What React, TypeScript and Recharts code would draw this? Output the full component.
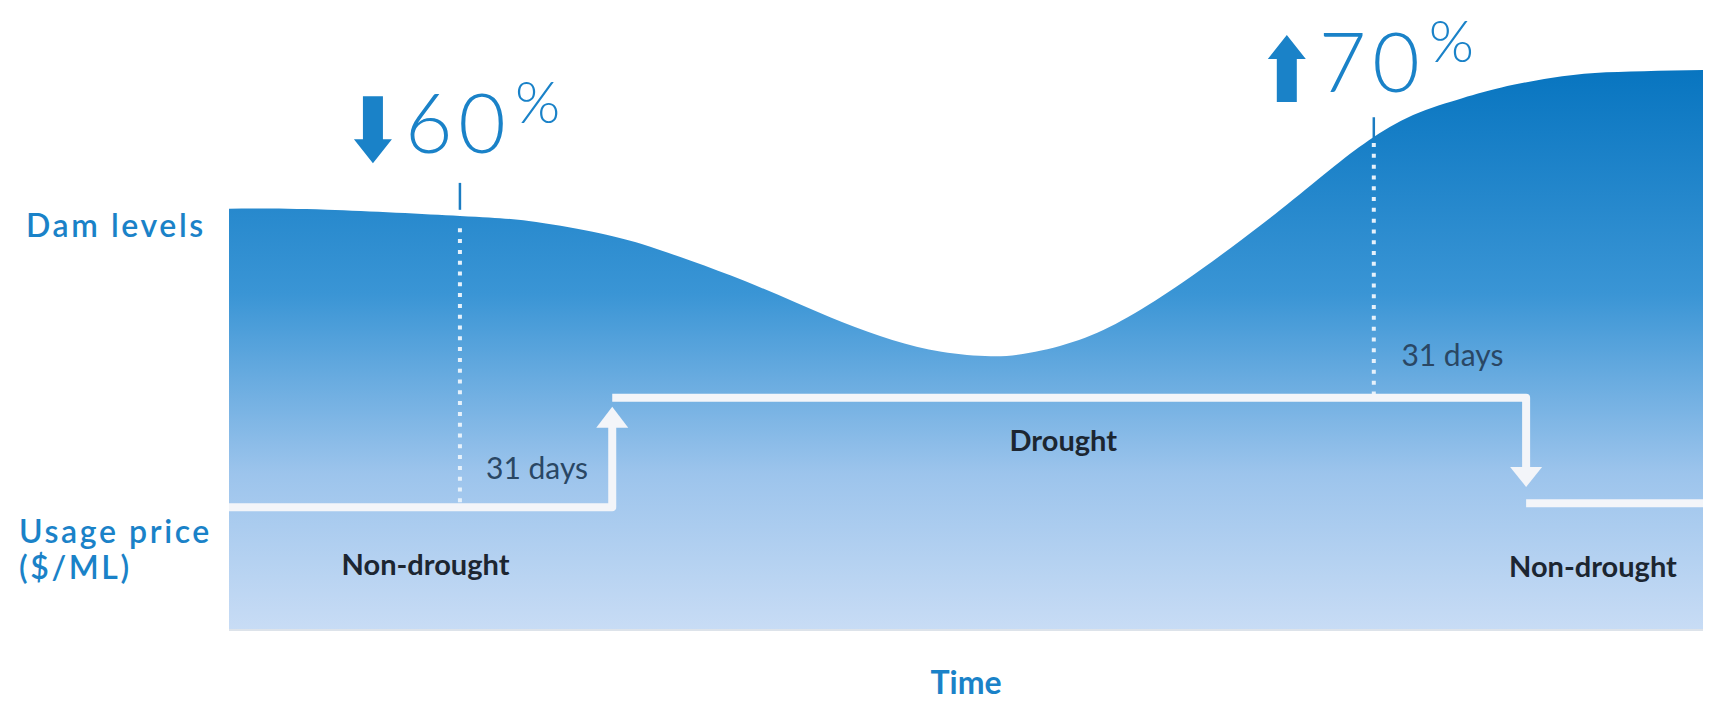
import {
  ComposedChart,
  Area,
  Line,
  XAxis,
  YAxis,
  ReferenceLine,
  ReferenceDot,
} from 'recharts';

// dam storage curve (x = days, y = % of panel height)
const days = [0, 20, 47, 61, 74, 84, 94, 105, 115, 125, 135, 145, 155, 163, 173, 183, 194, 204, 214, 224, 232, 241, 251, 259, 269, 278, 288, 300];
const damLevels = [75.1, 74.9, 73.8, 72.9, 71.0, 68.8, 65.8, 62.2, 58.5, 54.8, 51.7, 49.6, 48.8, 49.4, 51.7, 55.8, 61.9, 68.2, 74.9, 82.0, 87.3, 91.8, 94.8, 96.7, 98.4, 99.3, 99.6, 99.8];

// usage price steps
const beforeDays = [0, 78, 78];
const beforePrice = [21.9, 21.9, 36.2];
const droughtDays = [78, 264, 264];
const droughtPrice = [41.4, 41.4, 29.0];
const afterDays = [264, 300];
const afterPrice = [22.6, 22.6];
const arrowDays = [78, 264];
const arrowPrice = [39.8, 25.5];
const arrowDirs = ['up', 'down'];

// trigger markers
const markerDays = [47, 233];
const markerChange = ['60', '70'];
const markerDirs = ['down', 'up'];
const markerTextLevel = [85.0, 95.9];
const markerTickTop = [79.7, 91.4];
const markerTickBottom = [74.9, 87.7];
const markerDotTop = [71.6, 86.8];
const markerDotBottom = [21.9, 41.4];

// text in the panel
const delayLabels = ['31 days', '31 days'];
const delayDays = [62.7, 249];
const delayLevels = [28.7, 48.8];
const phaseLabels = ['Non-drought', 'Drought', 'Non-drought'];
const phaseDays = [40, 169.8, 277.6];
const phaseLevels = [11.6, 33.7, 11.2];

const yTicks = [71.8, 13.7];
const yTickLabels = [['Dam levels'], ['Usage price', '($/ML)']];

const damData = days.map((day, i) => ({ day, dam: damLevels[i] }));
const toSeg = (xs: number[], ys: number[]) => xs.map((day, i) => ({ day, price: ys[i] }));

const FONT = "Lato, 'Open Sans', sans-serif";
const BLUE = '#1a82c8';
const STEP = '#f3f5f9';
const SIDE_X = [26, 19];

const SideTick = (props: any) => {
  const { y, payload } = props;
  const idx = yTicks.indexOf(payload.value);
  const lines = yTickLabels[idx] || [];
  const start = lines.length > 1 ? -10 : 10;
  return (
    <g>
      {lines.map((t, i) => (
        <text
          key={t}
          x={SIDE_X[idx]}
          y={y + start + i * 36}
          textAnchor="start"
          fill={BLUE}
          fontFamily={FONT}
          fontSize={32}
          fontWeight={600}
          letterSpacing={2.6}
        >
          {t}
        </text>
      ))}
    </g>
  );
};

const Callout = ({ cx, cy, dir, value }: any) => {
  const ax = cx - 87;
  const shaft =
    dir === 'down'
      ? `M${ax - 10},${cy - 57} L${ax + 10},${cy - 57} L${ax + 10},${cy - 14} L${ax + 19},${cy - 14} L${ax},${cy + 10} L${ax - 19},${cy - 14} L${ax - 10},${cy - 14} Z`
      : `M${ax - 10},${cy + 10} L${ax + 10},${cy + 10} L${ax + 10},${cy - 33} L${ax + 19},${cy - 33} L${ax},${cy - 57} L${ax - 19},${cy - 33} L${ax - 10},${cy - 33} Z`;
  return (
    <g>
      <path d={shaft} fill={BLUE} />
      <text
        x={cx - 55}
        y={cy}
        fill={BLUE}
        fontFamily={FONT}
        fontSize={82}
        fontWeight={300}
        textLength={101}
        lengthAdjust="spacing"
      >
        {value}
      </text>
      <text x={cx + 55} y={cy - 30} fill={BLUE} fontFamily={FONT} fontSize={58} fontWeight={300}>
        %
      </text>
    </g>
  );
};

const ArrowHead = ({ cx, cy, dir }: any) => {
  const h = dir === 'up' ? 21 : -20;
  return <polygon points={`${cx},${cy} ${cx - 16},${cy + h} ${cx + 16},${cy + h}`} fill={STEP} />;
};

export default function App() {
  return (
    <div style={{ width: 1719, height: 703, background: '#fff' }}>
      <style>{'body{margin:0}'}</style>
      <ComposedChart
        width={1719}
        height={703}
        data={damData}
        margin={{ top: 69, right: 16, bottom: 0, left: 0 }}
      >
        <defs>
          <linearGradient id="damFill" x1="0" y1="0" x2="0" y2="1">
            <stop offset="0%" stopColor="#0875c0" />
            <stop offset="40%" stopColor="#3a95d5" />
            <stop offset="72%" stopColor="#9cc4ec" />
            <stop offset="100%" stopColor="#c8dcf5" />
          </linearGradient>
        </defs>
        <XAxis
          type="number"
          dataKey="day"
          domain={[0, 300]}
          allowDataOverflow
          ticks={[]}
          tick={false}
          tickLine={false}
          axisLine={false}
          height={73}
          label={{
            value: 'Time',
            position: 'insideBottom',
            offset: 9,
            fill: BLUE,
            fontSize: 32,
            fontWeight: 700,
            fontFamily: FONT,
          }}
        />
        <YAxis
          type="number"
          domain={[0, 100]}
          allowDataOverflow
          ticks={yTicks}
          width={229}
          tick={<SideTick />}
          tickLine={false}
          axisLine={false}
        />
        <Area
          type="natural"
          dataKey="dam"
          stroke="none"
          fill="url(#damFill)"
          fillOpacity={1}
          isAnimationActive={false}
          activeDot={false}
        />
        <ReferenceLine y={0} stroke="#dde3ea" strokeWidth={2} />

        {markerDays.map((d, i) => (
          <ReferenceLine
            key={`dot${i}`}
            segment={[
              { x: d, y: markerDotTop[i] },
              { x: d, y: markerDotBottom[i] },
            ]}
            stroke="#e6f1fb"
            strokeWidth={4}
            strokeDasharray="4 6.8"
          />
        ))}
        {markerDays.map((d, i) => (
          <ReferenceLine
            key={`tick${i}`}
            segment={[
              { x: d, y: markerTickTop[i] },
              { x: d, y: markerTickBottom[i] },
            ]}
            stroke="#1b7cc2"
            strokeWidth={2.5}
          />
        ))}

        <Line
          data={toSeg(beforeDays, beforePrice)}
          dataKey="price"
          type="linear"
          stroke={STEP}
          strokeWidth={8}
          strokeLinejoin="round"
          dot={false}
          activeDot={false}
          isAnimationActive={false}
        />
        <Line
          data={toSeg(droughtDays, droughtPrice)}
          dataKey="price"
          type="linear"
          stroke={STEP}
          strokeWidth={8}
          strokeLinejoin="round"
          dot={false}
          activeDot={false}
          isAnimationActive={false}
        />
        <Line
          data={toSeg(afterDays, afterPrice)}
          dataKey="price"
          type="linear"
          stroke={STEP}
          strokeWidth={8}
          dot={false}
          activeDot={false}
          isAnimationActive={false}
        />
        {arrowDays.map((d, i) => (
          <ReferenceDot
            key={`head${i}`}
            x={d}
            y={arrowPrice[i]}
            shape={(p: any) => <ArrowHead {...p} dir={arrowDirs[i]} />}
          />
        ))}

        {markerDays.map((d, i) => (
          <ReferenceDot
            key={`callout${i}`}
            x={d}
            y={markerTextLevel[i]}
            shape={(p: any) => <Callout {...p} dir={markerDirs[i]} value={markerChange[i]} />}
          />
        ))}

        {delayLabels.map((t, i) => (
          <ReferenceDot
            key={`delay${i}`}
            x={delayDays[i]}
            y={delayLevels[i]}
            shape={(p: any) => (
              <text
                x={p.cx}
                y={p.cy + 10}
                textAnchor="middle"
                fill="#2a4764"
                fontFamily={FONT}
                fontSize={30}
              >
                {t}
              </text>
            )}
          />
        ))}
        {phaseLabels.map((t, i) => (
          <ReferenceDot
            key={`phase${i}`}
            x={phaseDays[i]}
            y={phaseLevels[i]}
            shape={(p: any) => (
              <text
                x={p.cx}
                y={p.cy + 10}
                textAnchor="middle"
                fill="#1c2631"
                fontFamily={FONT}
                fontSize={29}
                fontWeight={700}
              >
                {t}
              </text>
            )}
          />
        ))}
      </ComposedChart>
    </div>
  );
}
